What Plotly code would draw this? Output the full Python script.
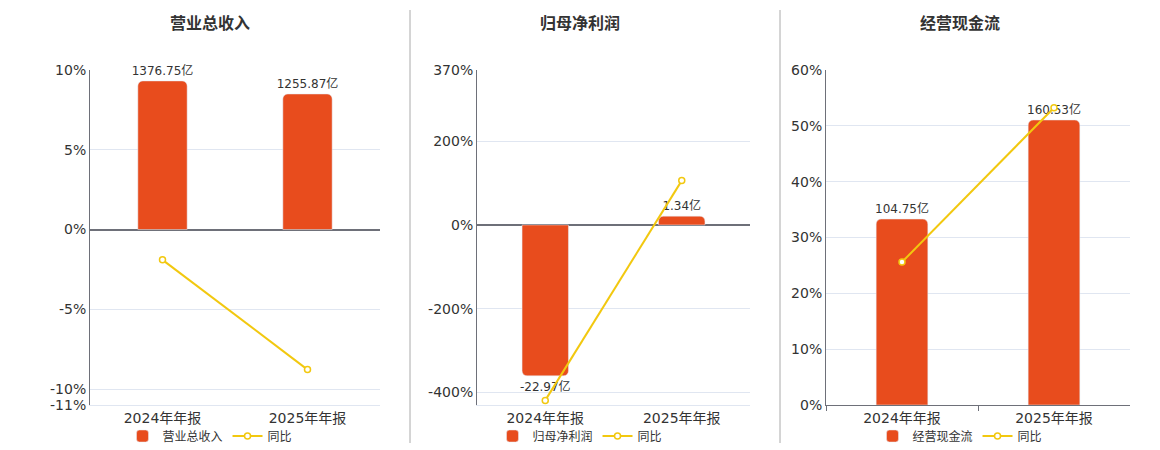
import plotly.graph_objects as go

# data
periods = ["2024年年报", "2025年年报"]

revenue = [1376.75, 1255.87]          # 营业总收入, 亿
revenue_yoy = [-1.9, -8.78]           # 同比, %
profit = [-22.97, 1.34]               # 归母净利润, 亿
profit_yoy = [-419.0, 105.83]
cashflow = [104.75, 160.53]           # 经营现金流, 亿
cashflow_yoy = [25.6, 53.25]

panels = [
    dict(title="营业总收入", bars=revenue, yoy=revenue_yoy,
         pct_range=[-11, 10], pct_ticks=[-11, -10, -5, 0, 5, 10], bar_top=1478),
    dict(title="归母净利润", bars=profit, yoy=profit_yoy,
         pct_range=[-430, 370], pct_ticks=[-400, -200, 0, 200, 370], bar_top=23.58),
    dict(title="经营现金流", bars=cashflow, yoy=cashflow_yoy,
         pct_range=[0, 60], pct_ticks=[0, 10, 20, 30, 40, 50, 60], bar_top=188.7),
]

W, H = 1160, 450
x_px = [(90, 380), (477, 750), (826, 1130)]
centers_px = [210, 580, 960]
y_dom = [(H - 405) / H, (H - 70) / H]

BAR = "#E84C1D"
LINE = "#F2C80F"
AXIS = "#6E7079"
GRID = "#E0E6F1"
TXT = "#333333"
FONT = "Verdana, DejaVu Sans, Noto Sans CJK SC"

fig = go.Figure()
layout = dict(
    width=W, height=H, margin=dict(l=0, r=0, t=0, b=0, autoexpand=False),
    paper_bgcolor="white", plot_bgcolor="white",
    font=dict(family=FONT, color=TXT, size=13),
    barcornerradius=5, showlegend=True,
    annotations=[], shapes=[],
)

for i, p in enumerate(panels):
    n = i + 1
    xa = "x" if n == 1 else f"x{n}"
    yb = 2 * i + 1           # bar axis (hidden)
    yl = 2 * i + 2           # percentage axis (visible, overlaying)
    yb_name = "y" if yb == 1 else f"y{yb}"
    yl_name = f"y{yl}"
    leg = "legend" if n == 1 else f"legend{n}"

    lo, hi = p["pct_range"]
    bar_range = [p["bar_top"] * lo / hi, p["bar_top"]]

    fig.add_trace(go.Bar(
        x=periods, y=p["bars"], name=p["title"], xaxis=xa, yaxis=yb_name,
        marker=dict(color=BAR), width=0.34,
        text=[f"{v:.2f}亿" for v in p["bars"]], textposition="outside",
        constraintext="none",
        textfont=dict(size=12, color=TXT), cliponaxis=False, legend=leg,
    ))
    fig.add_trace(go.Scatter(
        x=periods, y=p["yoy"], name="同比", xaxis=xa, yaxis=yl_name,
        mode="lines+markers", line=dict(color=LINE, width=2),
        marker=dict(symbol="circle", size=6, color="white",
                    line=dict(color=LINE, width=1.5)),
        cliponaxis=False, legend=leg,
    ))

    dom = [x_px[i][0] / W, x_px[i][1] / W]
    bottom_axis_dark = lo == 0
    layout["xaxis" if n == 1 else f"xaxis{n}"] = dict(
        domain=dom, anchor=yb_name, type="category",
        showline=True, linecolor=AXIS if bottom_axis_dark else GRID, linewidth=1,
        ticks="outside" if bottom_axis_dark else "", tickson="boundaries",
        ticklen=5, tickcolor=AXIS, showgrid=False,
        tickfont=dict(size=14, color=TXT), fixedrange=True,
    )
    layout["yaxis" if yb == 1 else f"yaxis{yb}"] = dict(
        domain=y_dom, anchor=xa, range=bar_range, visible=False,
        showgrid=False, zeroline=False, fixedrange=True,
    )
    layout[f"yaxis{yl}"] = dict(
        domain=y_dom, anchor=xa, overlaying=yb_name, side="left",
        range=p["pct_range"], tickmode="array", tickvals=p["pct_ticks"],
        ticktext=[f"{v}%" for v in p["pct_ticks"]],
        showline=True, linecolor=AXIS, linewidth=1,
        showgrid=True, gridcolor=GRID, gridwidth=1,
        zeroline=True, zerolinecolor=AXIS, zerolinewidth=1.5,
        tickfont=dict(size=14, color=TXT), ticks="", fixedrange=True,
    )
    layout[leg] = dict(
        orientation="h", x=centers_px[i] / W, y=(H - 436) / H,
        xanchor="center", yanchor="middle", font=dict(size=12, color=TXT),
        bgcolor="rgba(0,0,0,0)", itemwidth=30, tracegroupgap=0,
    )
    layout["annotations"].append(dict(
        text=f"<b>{p['title']}</b>", x=centers_px[i] / W, y=(H - 22) / H,
        xref="paper", yref="paper", showarrow=False,
        xanchor="center", yanchor="middle",
        font=dict(size=16, color=TXT, family="Noto Sans CJK SC"),
    ))

for sx in (410, 780):
    layout["shapes"].append(dict(
        type="line", xref="paper", yref="paper", x0=sx / W, x1=sx / W,
        y0=(H - 443) / H, y1=(H - 10) / H, line=dict(color="#AAAAAA", width=1),
    ))

fig.update_layout(**layout)
fig.write_html("out.html", config={"displayModeBar": False},
               post_script="document.body.style.margin='0';")
